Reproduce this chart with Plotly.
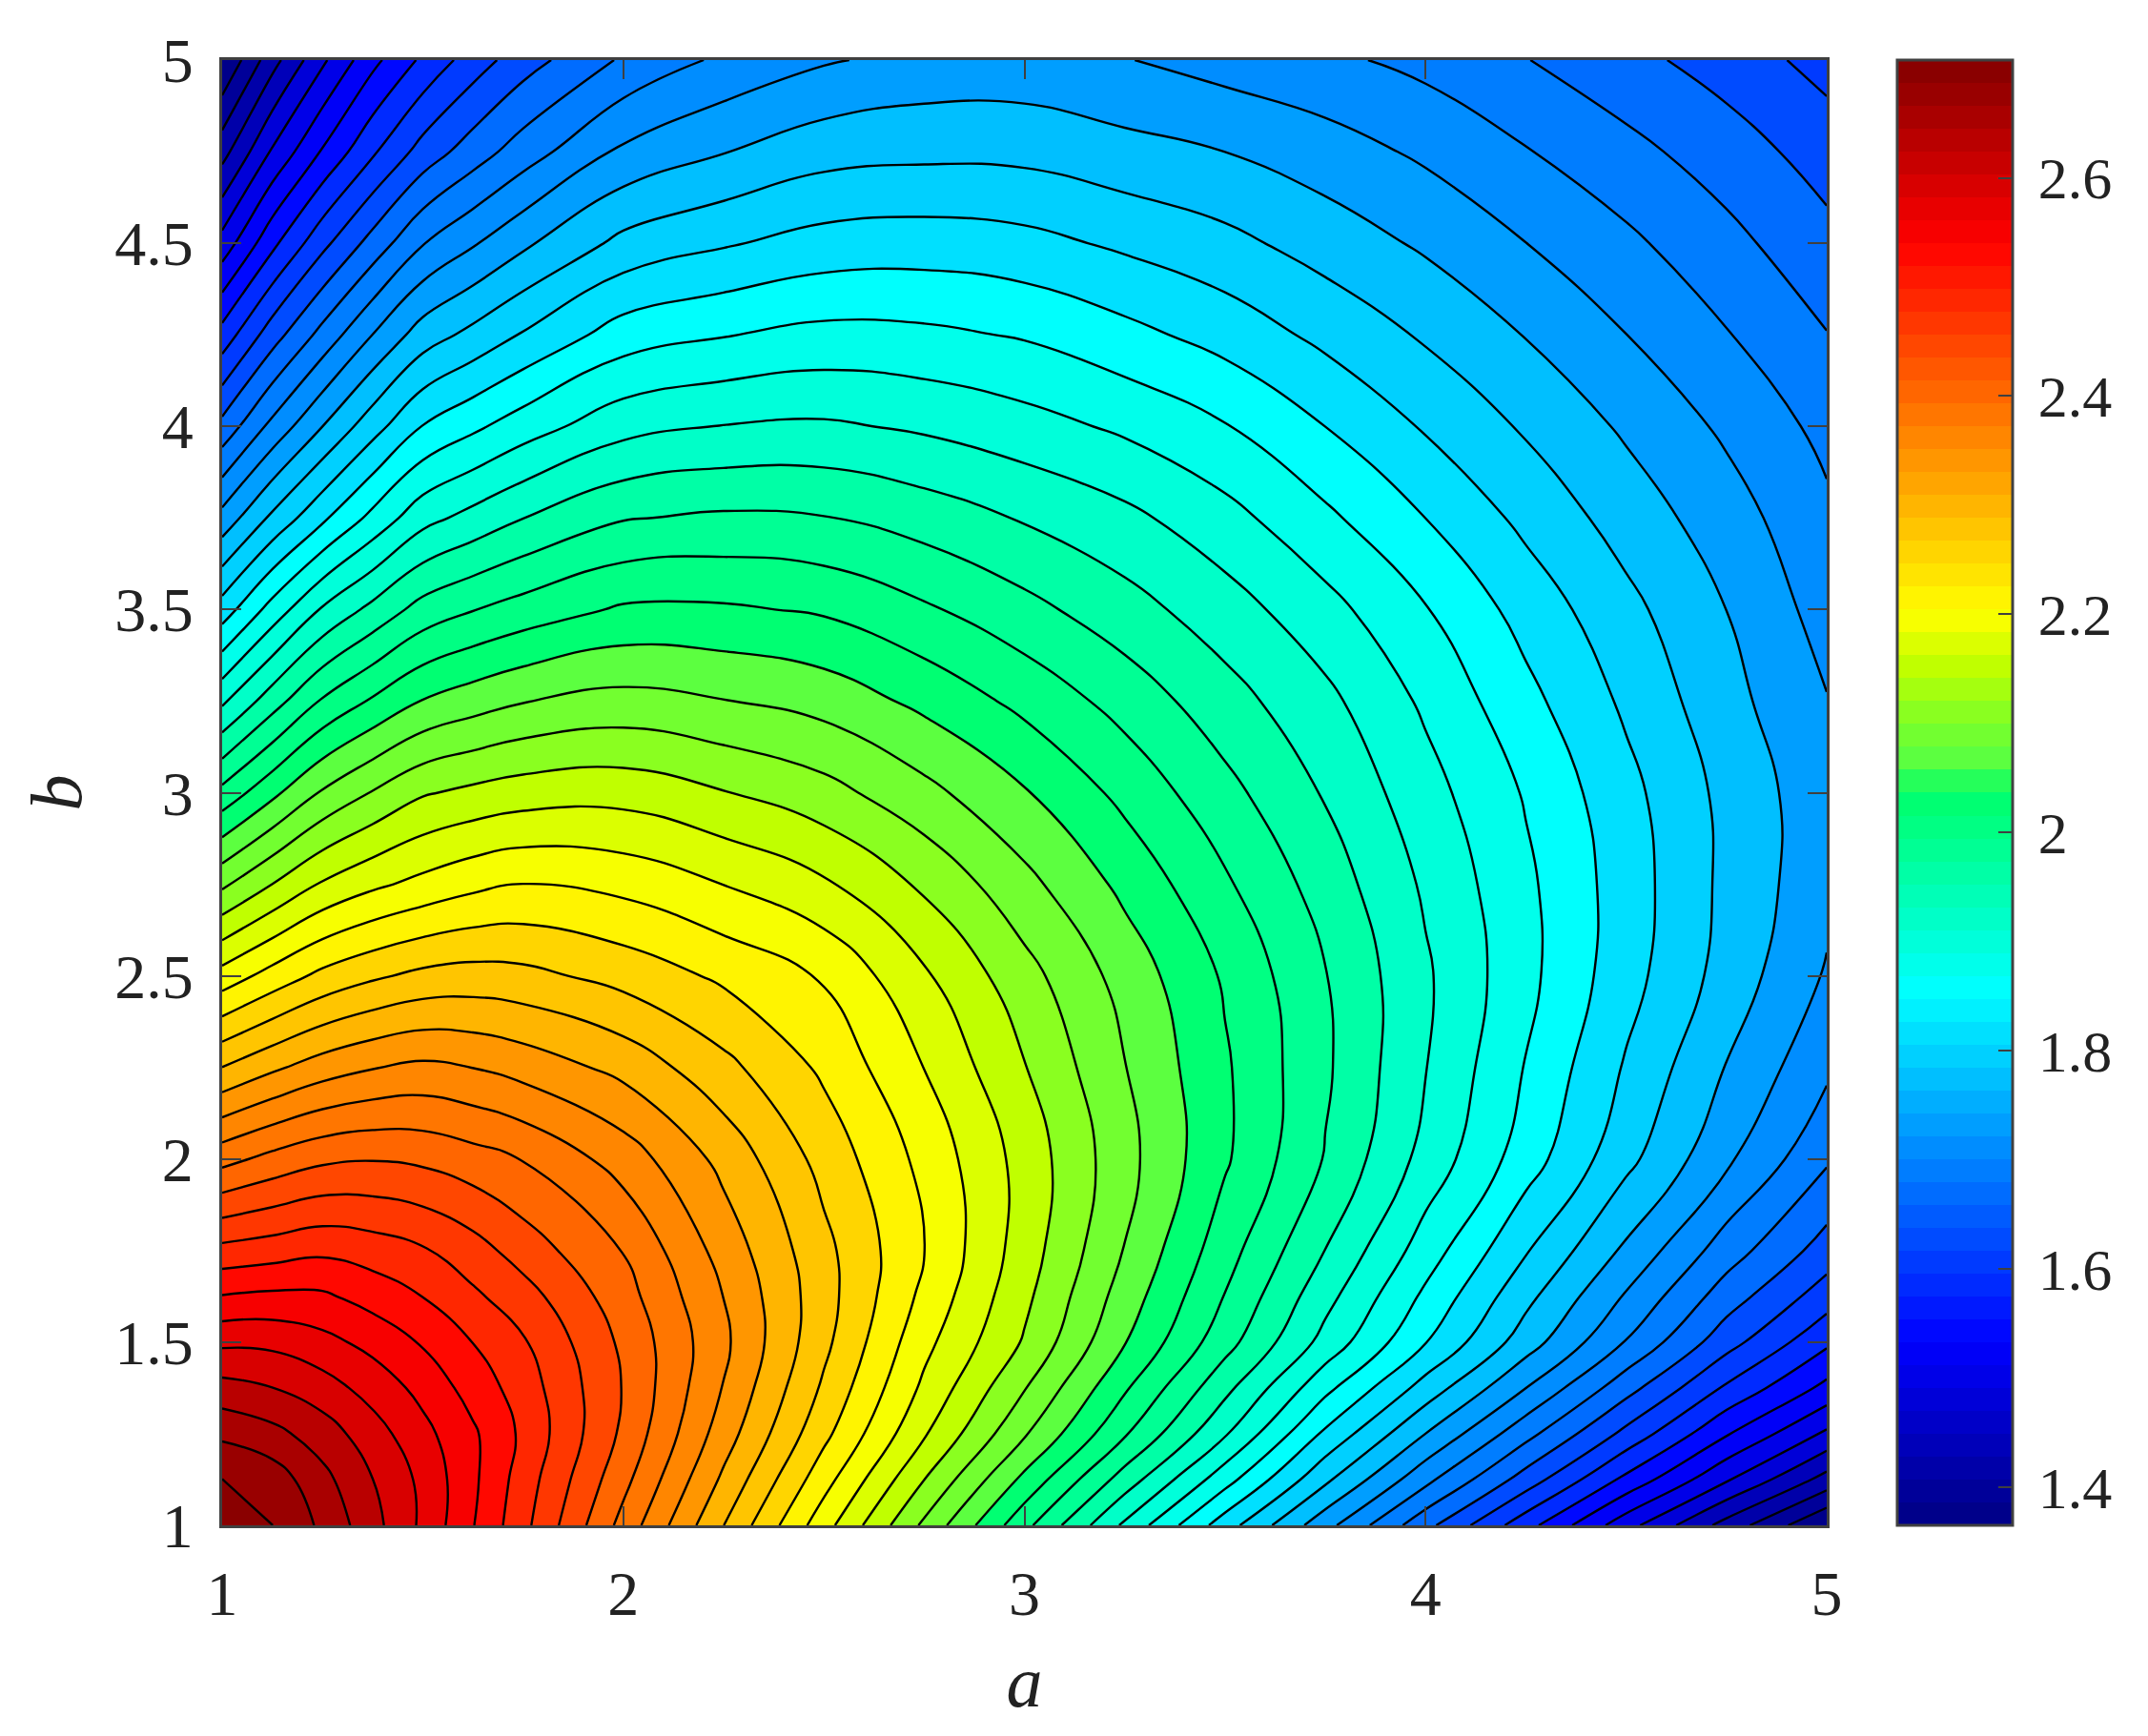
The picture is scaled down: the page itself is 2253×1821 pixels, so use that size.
import numpy as np
import plotly.graph_objects as go

a_values = [1, 1.125, 1.25, 1.375, 1.5, 1.625, 1.75, 2, 2.25, 2.5, 2.75, 3, 3.25, 3.5, 3.75, 4, 4.25, 4.5, 4.75, 5]
b_values = [1, 1.125, 1.25, 1.375, 1.5, 1.625, 1.75, 2, 2.25, 2.5, 2.75, 3, 3.25, 3.5, 3.75, 4, 4.25, 4.5, 4.75, 5]

# The surface is symmetric in a and b; each row starts on the diagonal (b = a) and runs up to b = 5.
z_a1000 = [2.708, 2.682, 2.650, 2.612, 2.571, 2.525, 2.479, 2.383, 2.287, 2.192, 2.097, 2.005, 1.913, 1.825, 1.743, 1.663, 1.586, 1.507, 1.434, 1.365]
z_a1125 = [2.670, 2.637, 2.603, 2.570, 2.529, 2.485, 2.400, 2.308, 2.218, 2.129, 2.043, 1.959, 1.876, 1.792, 1.715, 1.643, 1.569, 1.500, 1.434]
z_a1250 = [2.616, 2.588, 2.558, 2.528, 2.492, 2.413, 2.326, 2.241, 2.158, 2.079, 2.000, 1.921, 1.834, 1.760, 1.690, 1.621, 1.552, 1.492]
z_a1375 = [2.566, 2.542, 2.513, 2.485, 2.417, 2.338, 2.256, 2.176, 2.104, 2.027, 1.952, 1.873, 1.802, 1.734, 1.665, 1.598, 1.542]
z_a1500 = [2.521, 2.497, 2.474, 2.413, 2.345, 2.267, 2.189, 2.126, 2.051, 1.981, 1.909, 1.840, 1.773, 1.706, 1.639, 1.581]
z_a1625 = [2.476, 2.456, 2.403, 2.339, 2.271, 2.201, 2.135, 2.064, 1.996, 1.927, 1.860, 1.794, 1.731, 1.668, 1.615]
z_a1750 = [2.433, 2.391, 2.329, 2.268, 2.208, 2.142, 2.075, 2.008, 1.944, 1.879, 1.815, 1.755, 1.694, 1.643]
z_a2000 = [2.354, 2.305, 2.251, 2.200, 2.145, 2.085, 2.027, 1.969, 1.909, 1.852, 1.794, 1.739, 1.685]
z_a2250 = [2.268, 2.229, 2.181, 2.130, 2.077, 2.027, 1.975, 1.919, 1.864, 1.810, 1.759, 1.713]
z_a2500 = [2.205, 2.159, 2.112, 2.066, 2.020, 1.972, 1.922, 1.873, 1.823, 1.776, 1.731]
z_a2750 = [2.124, 2.084, 2.043, 2.001, 1.959, 1.914, 1.871, 1.826, 1.780, 1.742]
z_a3000 = [2.052, 2.016, 1.979, 1.942, 1.902, 1.863, 1.821, 1.779, 1.743]
z_a3250 = [1.987, 1.955, 1.925, 1.887, 1.847, 1.808, 1.769, 1.735]
z_a3500 = [1.930, 1.901, 1.867, 1.829, 1.794, 1.760, 1.723]
z_a3750 = [1.871, 1.839, 1.806, 1.775, 1.746, 1.713]
z_a4000 = [1.810, 1.783, 1.756, 1.729, 1.700]
z_a4250 = [1.759, 1.734, 1.709, 1.682]
z_a4500 = [1.713, 1.689, 1.663]
z_a4750 = [1.668, 1.643]
z_a5000 = [1.619]

z_min = 1.365
z_max = 2.708
level_step = 0.02633
level_count = 50
x_ticks = [1, 2, 3, 4, 5]
y_ticks = [1, 1.5, 2, 2.5, 3, 3.5, 4, 4.5, 5]
y_tick_text = ["1", "1.5", "2", "2.5", "3", "3.5", "4", "4.5", "5"]
bar_ticks = [1.4, 1.6, 1.8, 2, 2.2, 2.4, 2.6]
bar_tick_text = ["1.4", "1.6", "1.8", "2", "2.2", "2.4", "2.6"]

upper = [z_a1000, z_a1125, z_a1250, z_a1375, z_a1500, z_a1625, z_a1750, z_a2000, z_a2250, z_a2500,
         z_a2750, z_a3000, z_a3250, z_a3500, z_a3750, z_a4000, z_a4250, z_a4500, z_a4750, z_a5000]
n = len(a_values)
grid = np.zeros((n, n))
for i, row in enumerate(upper):
    for j, v in enumerate(row):
        grid[i, i + j] = v
        grid[i + j, i] = v
z = grid.T.tolist()

# colour map as it appears on the reference's colour bar: 64 flat steps
stops = [
    (0.000, (0, 0, 130)), (0.125, (0, 0, 255)), (0.365, (0, 255, 255)),
    (0.500, (0, 255, 105)), (0.518, (85, 255, 70)), (0.547, (125, 255, 40)),
    (0.585, (190, 255, 0)), (0.622, (255, 255, 0)), (0.875, (255, 0, 0)), (1.000, (130, 0, 0)),
]
pos = [s[0] for s in stops]
chan = [[s[1][c] for s in stops] for c in range(3)]
stepped = []
for i in range(64):
    t = (i + 0.5) / 64
    c = [int(round(np.interp(t, pos, chan[k]))) for k in range(3)]
    col = f"rgb({c[0]},{c[1]},{c[2]})"
    stepped.append([i / 64, col])
    stepped.append([(i + 1) / 64, col])

FONT = "Liberation Serif"
TXT = "#222222"
AX = "#404040"

fig = go.Figure()
fig.add_trace(go.Heatmap(
    x=a_values, y=b_values, z=z, zmin=z_min, zmax=z_max, colorscale=stepped, zsmooth=False,
    colorbar=dict(
        x=1.044, xanchor="left", y=0.5, yanchor="middle", len=1.0, lenmode="fraction",
        thickness=121, thicknessmode="pixels", outlinecolor=AX, outlinewidth=3,
        ticks="inside", ticklen=16, tickwidth=2, tickcolor=AX,
        tickvals=bar_ticks, ticktext=["\u2009" + t for t in bar_tick_text],
        tickfont=dict(family=FONT, size=62, color=TXT), xpad=0, ypad=0,
    ),
    hoverinfo="skip",
))
fig.add_trace(go.Contour(
    x=a_values, y=b_values, z=z, zmin=z_min, zmax=z_max, colorscale=stepped, showscale=False,
    autocontour=False,
    contours=dict(start=z_max - level_count * level_step, end=z_max - level_step,
                  size=level_step, coloring="fill", showlines=True),
    line=dict(color="#000000", width=2.4, smoothing=1.3),
))
fig.update_layout(
    width=2253, height=1821, autosize=False, paper_bgcolor="white", plot_bgcolor="white",
    margin=dict(l=233, r=337, t=63, b=221), showlegend=False,
    font=dict(family=FONT, color=TXT),
    xaxis=dict(range=[1, 5], tickvals=x_ticks, ticktext=[str(t) for t in x_ticks],
               ticks="inside", ticklen=20, tickwidth=2, tickcolor=AX, showgrid=False, zeroline=False,
               showline=True, linecolor=AX, linewidth=3, mirror="ticks", ticklabelstandoff=12,
               tickfont=dict(family=FONT, size=66, color=TXT),
               title=dict(text="<i>a</i>", font=dict(family=FONT, size=76, color=TXT), standoff=30)),
    yaxis=dict(range=[1, 5], tickvals=y_ticks, ticktext=y_tick_text,
               ticks="inside", ticklen=20, tickwidth=2, tickcolor=AX, showgrid=False, zeroline=False,
               showline=True, linecolor=AX, linewidth=3, mirror="ticks", ticklabelstandoff=14,
               tickfont=dict(family=FONT, size=66, color=TXT),
               title=dict(text="<i>b</i>", font=dict(family=FONT, size=76, color=TXT), standoff=10)),
)
fig.write_html("out.html", config={"displayModeBar": False},
               post_script="document.body.style.margin='0';")
